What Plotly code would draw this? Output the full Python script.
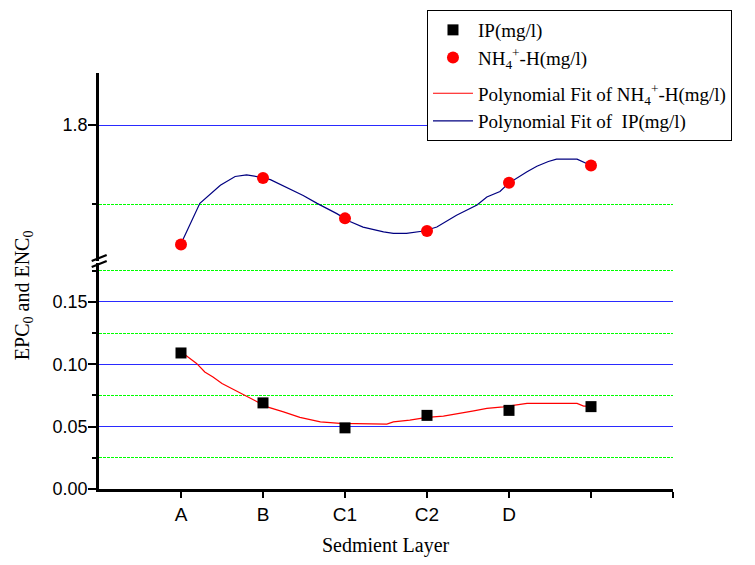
import plotly.graph_objects as go

# ---- data ----
layer_labels = ["A", "B", "C1", "C2", "D", "", ""]
layer_ticks = [1, 2, 3, 4, 5, 6, 7]
sample_x = [1, 2, 3, 4, 5, 6]
ip_vals = [0.109, 0.069, 0.049, 0.059, 0.063, 0.066]
nh4_vals = [1.649, 1.733, 1.682, 1.666, 1.727, 1.749]

fit_nh4_x = [1.0, 1.23, 1.48, 1.66, 1.80, 1.98, 2.09, 2.33, 2.49, 2.66, 2.90, 3.06,
             3.22, 3.47, 3.59, 3.75, 3.96, 4.12, 4.36, 4.61, 4.73, 4.89, 4.99, 5.22,
             5.34, 5.48, 5.58, 5.83, 6.0]
fit_nh4_y = [1.650, 1.701, 1.724, 1.735, 1.737, 1.734, 1.731, 1.719, 1.711, 1.701,
             1.688, 1.678, 1.671, 1.665, 1.663, 1.663, 1.666, 1.671, 1.686, 1.699,
             1.709, 1.716, 1.726, 1.741, 1.748, 1.754, 1.757, 1.757, 1.749]

fit_ip_x = [1.0, 1.19, 1.29, 1.39, 1.50, 1.68, 1.84, 2.05, 2.25, 2.45, 2.70, 2.94,
            3.51, 3.59, 3.79, 4.00, 4.20, 4.36, 4.57, 4.73, 4.93, 5.22, 5.83, 5.91, 6.0]
fit_ip_y = [0.110, 0.1006, 0.0938, 0.0898, 0.0846, 0.0786, 0.0726, 0.0658, 0.0618,
            0.0574, 0.0538, 0.0526, 0.0520, 0.0538, 0.0552, 0.0574, 0.0584, 0.0600,
            0.0626, 0.0646, 0.0658, 0.0686, 0.0686, 0.0664, 0.0664]

SERIF = "Liberation Serif"
SANS = "Liberation Sans"

fig = go.Figure()
# lines first (drawn underneath), markers after
fig.add_trace(go.Scatter(x=fit_ip_x, y=fit_ip_y, mode="lines",
                         name="Polynomial Fit of NH<sub>4</sub><sup>+</sup>-H(mg/l)",
                         line=dict(color="red", width=1.2), legendgroup="fits",
                         xaxis="x", yaxis="y", legendrank=3))
fig.add_trace(go.Scatter(x=fit_nh4_x, y=fit_nh4_y, mode="lines",
                         name="Polynomial Fit of  IP(mg/l)",
                         line=dict(color="#000080", width=1.2), legendgroup="fits",
                         xaxis="x", yaxis="y2", legendrank=4))
fig.add_trace(go.Scatter(x=sample_x, y=ip_vals, mode="markers", name="IP(mg/l)",
                         marker=dict(symbol="square", color="black", size=11),
                         legendgroup="pts",
                         xaxis="x", yaxis="y", legendrank=1))
fig.add_trace(go.Scatter(x=sample_x, y=nh4_vals, mode="markers",
                         name="NH<sub>4</sub><sup>+</sup>-H(mg/l)",
                         marker=dict(symbol="circle", color="red", size=12),
                         legendgroup="pts",
                         xaxis="x", yaxis="y2", legendrank=2))

fig.update_layout(
    width=755, height=565,
    margin=dict(l=91, r=90, t=65, b=84, autoexpand=False),
    plot_bgcolor="white", paper_bgcolor="white",
    showlegend=True,
    legend=dict(x=0.5714, y=1.1514, xanchor="left", yanchor="top",
                bgcolor="white", bordercolor="black", borderwidth=1,
                font=dict(family=SERIF, size=19, color="black"),
                itemwidth=40, tracegroupgap=8, groupclick="toggleitem"),
    xaxis=dict(range=[0, 7], tickvals=layer_ticks, ticktext=layer_labels,
               showline=True, linecolor="black", linewidth=2.5,
               ticks="outside", ticklen=6, tickwidth=2, tickcolor="black",
               showgrid=False, zeroline=False, anchor="y",
               tickfont=dict(family=SANS, size=19, color="black")),
    yaxis=dict(domain=[0, 0.543], range=[0, 0.181], tick0=0, dtick=0.05,
               tickformat=".2f", showline=True, linecolor="black", linewidth=2.5,
               ticks="outside", ticklen=8, tickwidth=2, tickcolor="black",
               showgrid=True, gridcolor="#2a2aff", gridwidth=1, zeroline=False,
               anchor="x", ticklabelstandoff=-3,
               tickfont=dict(family=SANS, size=18, color="black"),
               minor=dict(dtick=0.025, tick0=0, ticks="outside", ticklen=4,
                          tickwidth=2, tickcolor="black", showgrid=True,
                          gridcolor="#00ff00", griddash="3px,1px", gridwidth=1)),
    yaxis2=dict(domain=[0.548, 1], range=[1.628, 1.866], tick0=1.8, dtick=0.2,
                tickformat=".1f", showline=True, linecolor="black", linewidth=2.5,
                ticks="outside", ticklen=8, tickwidth=2, tickcolor="black",
                showgrid=True, gridcolor="#2a2aff", gridwidth=1, zeroline=False,
                anchor="x", ticklabelstandoff=-3,
                tickfont=dict(family=SANS, size=18, color="black"),
                minor=dict(dtick=0.1, tick0=1.8, ticks="outside", ticklen=4,
                           tickwidth=2, tickcolor="black", showgrid=True,
                           gridcolor="#00ff00", griddash="3px,1px", gridwidth=1)),
)

# axis break marks
for y0, y1 in [(0.548, 0.5625), (0.5337, 0.5481)]:
    fig.add_shape(type="line", xref="paper", yref="paper",
                  x0=-0.0127, x1=0.0134, y0=y0, y1=y1,
                  line=dict(color="black", width=2.2))

fig.add_annotation(text="EPC<sub>0</sub> and ENC<sub>0</sub>", xref="paper", yref="paper",
                   x=-0.1324, y=0.466, textangle=-90, showarrow=False,
                   font=dict(family=SERIF, size=20, color="black"),
                   xanchor="center", yanchor="middle")
fig.add_annotation(text="Sedmient Layer", xref="paper", yref="paper",
                   x=0.5, y=-0.137, showarrow=False,
                   font=dict(family=SERIF, size=20, color="black"),
                   xanchor="center", yanchor="middle")

fig.write_html("out.html")
